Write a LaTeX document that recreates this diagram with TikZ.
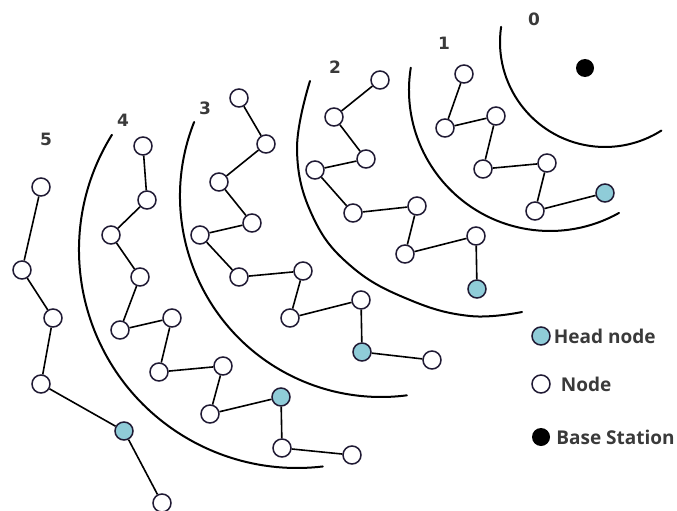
\documentclass[tikz,border=0pt]{standalone}
\usepackage{fontspec}
\newfontfamily\numfont{DejaVu Sans}
\newfontfamily\legfont{Open Sans}
\usetikzlibrary{positioning}
\definecolor{headblue}{RGB}{143,204,216}
\definecolor{rim}{RGB}{32,26,52}
\definecolor{lbl}{RGB}{58,58,58}

\tikzset{
 sensor/.style={circle, draw=rim, line width=1.5pt, fill=white, minimum size=18pt, inner sep=0pt},
 head/.style={sensor, fill=headblue},
 bs/.style={circle, fill=black, minimum size=18pt, inner sep=0pt},
 link/.style={black, line width=1.6pt},
 ring/.style={black, line width=2pt, line cap=round},
 hop/.style={text=lbl, inner sep=0pt, font=\numfont\bfseries\fontsize{17}{17}\selectfont},
 legend/.style={text=lbl, inner sep=0pt, font=\legfont\bfseries\fontsize{19}{19}\selectfont}
}

\begin{document}
\begin{tikzpicture}[x=1pt, y=-1pt]
\useasboundingbox (0,0) rectangle (677,511);

% hop rings
\coordinate (c0) at (605,42);
\coordinate (c1) at (550,90);
\coordinate (c3) at (381,196);
\coordinate (c4) at (297,250);
\draw[ring] (c0) ++(188.3:105) arc[start angle=188.3, end angle=57.5, radius=105];
\draw[ring] (c1) ++(189.1:141) arc[start angle=189.1, end angle=60.7, radius=141];
\draw[ring] plot[smooth, tension=0.7] coordinates {(310,81) (297,150) (313,217) (352,267) (410,300) (470,316) (522,312)};
\draw[ring] (c3) ++(201.6:201) arc[start angle=201.6, end angle=82.6, radius=201];
\draw[ring] (c4) ++(211.9:218) arc[start angle=211.9, end angle=83.2, radius=218];

% hop numbers
\foreach \k/\x/\y in {0/534/19, 1/444/43, 2/335/67, 3/205/108, 4/123/120, 5/46/139}
 \node[hop] (hop\k) at (\x,\y) {\k};

% base station
\node[bs] (base) at (585,68) {};

% hop 1
\foreach \n/\x/\y in {a/464/74, b/445/128, c/496/116, d/483/169, e/547/163, f/535/211}
 \node[sensor] (one\n) at (\x,\y) {};
\node[head] (oneg) at (605,193) {};
\draw[link] (onea)--(oneb)--(onec)--(oned)--(onee)--(onef)--(oneg);

% hop 2
\foreach \n/\x/\y in {a/380/80, b/334/117, c/366/159, d/315/170, e/353/213, f/417/206, g/405/254, h/476/236}
 \node[sensor] (two\n) at (\x,\y) {};
\node[head] (twoi) at (477,289) {};
\draw[link] (twoa)--(twob)--(twoc)--(twod)--(twoe)--(twof)--(twog)--(twoh)--(twoi);

% hop 3
\foreach \n/\x/\y in {a/239/98, b/266/144, c/219/182, d/252/223, e/200/235, f/239/277, g/303/271, h/290/318, i/361/300, k/432/360}
 \node[sensor] (three\n) at (\x,\y) {};
\node[head] (threej) at (362,352) {};
\draw[link] (threea)--(threeb)--(threec)--(threed)--(threee)--(threef)--(threeg)--(threeh)--(threei)--(threej)--(threek);

% hop 4
\foreach \n/\x/\y in {a/143/146, b/147/200, c/111/235, d/140/277, e/120/330, f/172/318, g/159/372, h/223/366, i/210/414, k/282/448, l/352/455}
 \node[sensor] (four\n) at (\x,\y) {};
\node[head] (fourj) at (281,397) {};
\draw[link] (foura)--(fourb)--(fourc)--(fourd)--(foure)--(fourf)--(fourg)--(fourh)--(fouri)--(fourj)--(fourk)--(fourl);

% hop 5
\foreach \n/\x/\y in {a/41/187, b/22/270, c/53/318, d/41/384, f/162/503}
 \node[sensor] (five\n) at (\x,\y) {};
\node[head] (fivee) at (124,431) {};
\draw[link] (fivea)--(fiveb)--(fivec)--(fived)--(fivee)--(fivef);

% legend
\node[head] (khead) at (541,336) {};
\node[legend, right=3pt of khead] (thead) {Head node};
\node[sensor] (knode) at (541,384) {};
\node[legend, right=10pt of knode] (tnode) {Node};
\node[bs] (kbase) at (541,437) {};
\node[legend, right=6pt of kbase] (tbase) {Base Station};
\end{tikzpicture}
\end{document}
